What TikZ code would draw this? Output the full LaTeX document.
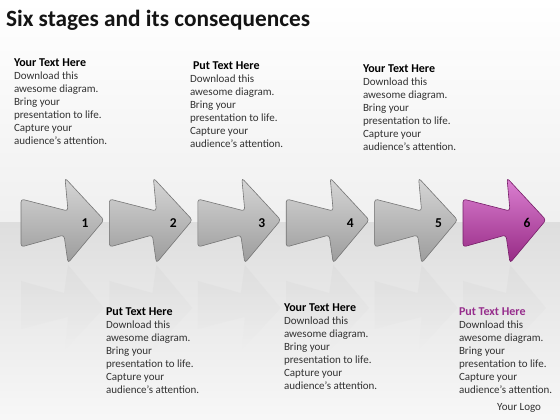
\documentclass[tikz,border=0pt]{standalone}
\usepackage{fontspec}
\setmainfont{Carlito}
\usetikzlibrary{positioning, fadings}

\definecolor{greytop}{RGB}{214,214,214}
\definecolor{greybottom}{RGB}{156,156,156}
\definecolor{greyline}{RGB}{118,118,118}
\definecolor{purpletop}{RGB}{220,128,210}
\definecolor{purplebottom}{RGB}{150,42,132}
\definecolor{purpleline}{RGB}{118,30,104}
\definecolor{purplehead}{RGB}{150,45,140}
\definecolor{bodygrey}{RGB}{50,50,50}

\newcommand{\stageoutline}{(0,-23) -- (47,-11) -- (44,-44) -- (83,-2) -- (47,41) -- (43,13) -- (0,25) -- cycle}
\newcommand{\stagehead}[1]{\textcolor{black}{\fontsize{12}{13}\selectfont\textbf{#1}}}

\tikzset{
every node/.style = {inner sep = 0pt, outer sep = 0pt},
title/.style = {font = \fontsize{23.3}{27}\selectfont\bfseries, text = black!92,
   anchor = base west},
% base of a multi-line node = baseline of its last line
stagetext/.style = {font = \fontsize{11}{13}\selectfont, text = bodygrey,
   align = left, anchor = base west},
stagenum/.style = {font = \fontsize{13.5}{15}\selectfont\bfseries, text = black},
greystage/.style = {top color = greytop, bottom color = greybottom,
   draw = greyline, line width = .6pt, rounded corners = 3pt},
purplestage/.style = {top color = purpletop, bottom color = purplebottom,
   draw = purpleline, line width = .6pt, rounded corners = 3pt},
reflection/.style = {fill = black!20, opacity = .22, path fading = south},
stagearrow/.pic = {
   \path [pic actions] \stageoutline;
   \node [stagenum] (-num) at (64,1) {#1};
},
stageshadow/.pic = {
   \path [pic actions] \stageoutline;
}
}

\begin{document}
\begin{tikzpicture}[x = 1pt, y = -1pt]
\useasboundingbox (0,0) rectangle (560,420);

%% Background
\shade [top color = white, bottom color = black!6] (0,0) rectangle (560,222);
\shade [top color = black!13, bottom color = black!3] (0,222) rectangle (560,420);

%% Title
\node [title] (title) at (6,27) {Six stages and its consequences};

%% Reflections
\pic [reflection, yscale = -1] at (21,306) {stageshadow};
\pic [reflection, yscale = -1] at (109.4,306) {stageshadow};
\pic [reflection, yscale = -1] at (197.8,306) {stageshadow};
\pic [reflection, yscale = -1] at (286.2,306) {stageshadow};
\pic [reflection, yscale = -1] at (374.6,306) {stageshadow};
\pic [reflection, yscale = -1] at (463,306) {stageshadow};

%% Stage arrows
\pic [greystage] (a1) at (21,222) {stagearrow=1};
\pic [greystage] (a2) at (109.4,222) {stagearrow=2};
\pic [greystage] (a3) at (197.8,222) {stagearrow=3};
\pic [greystage] (a4) at (286.2,222) {stagearrow=4};
\pic [greystage] (a5) at (374.6,222) {stagearrow=5};
\pic [purplestage] (a6) at (463,222) {stagearrow=6};

%% Upper texts
\node [stagetext] (t1) at (14,144) {\stagehead{Your Text Here}\\Download this\\awesome diagram.\\Bring your\\presentation to life.\\Capture your\\audience’s attention.};
\node [stagetext] (t2) at (190,147) {\stagehead{\hspace{3pt}Put Text Here}\\Download this\\awesome diagram.\\Bring your\\presentation to life.\\Capture your\\audience’s attention.};
\node [stagetext] (t3) at (363,150) {\stagehead{Your Text Here}\\Download this\\awesome diagram.\\Bring your\\presentation to life.\\Capture your\\audience’s attention.};

%% Lower texts
\node [stagetext] (t4) at (106,393) {\stagehead{Put Text Here}\\Download this\\awesome diagram.\\Bring your\\presentation to life.\\Capture your\\audience’s attention.};
\node [stagetext] (t5) at (284,389) {\stagehead{Your Text Here}\\Download this\\awesome diagram.\\Bring your\\presentation to life.\\Capture your\\audience’s attention.};
\node [stagetext] (t6) at (459,393) {\textcolor{purplehead}{\fontsize{12}{13}\selectfont\textbf{Put Text Here}}\\Download this\\awesome diagram.\\Bring your\\presentation to life.\\Capture your\\audience’s attention.};

\node [stagetext, anchor = base east] (logo) at (541,410) {Your Logo};

\end{tikzpicture}
\end{document}
